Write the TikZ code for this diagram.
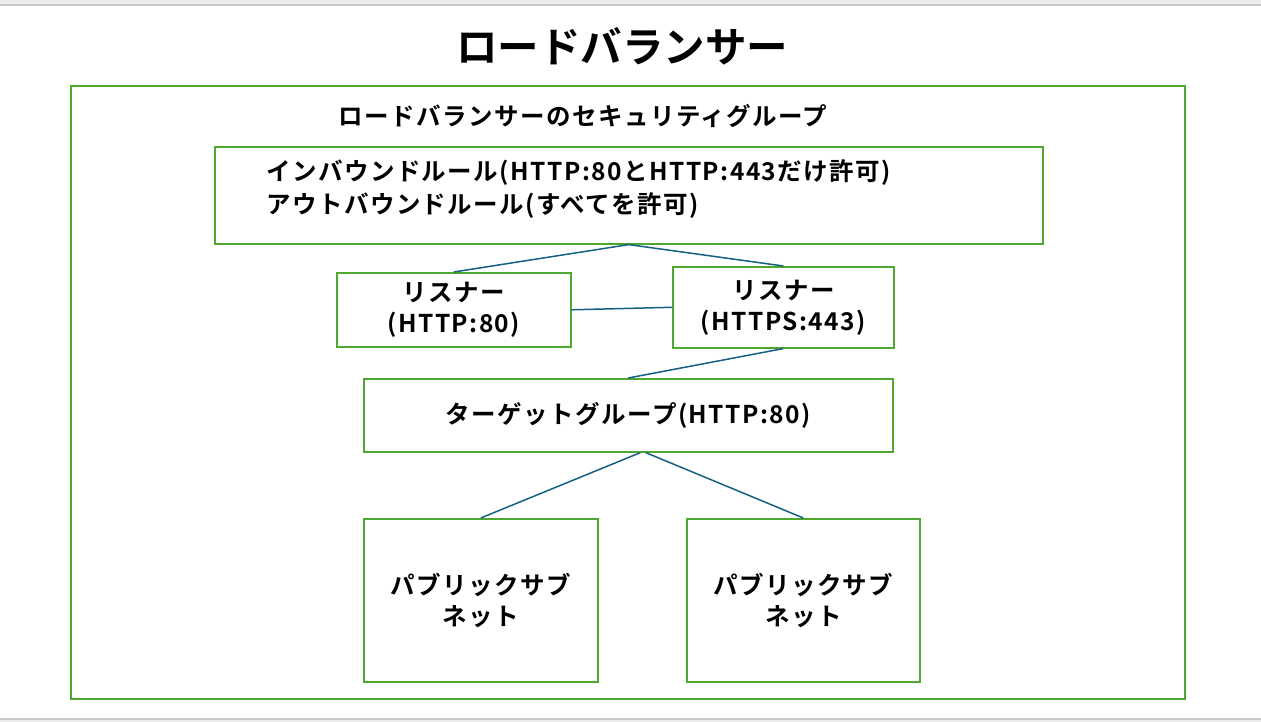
\documentclass[tikz,border=0pt]{standalone}
\usepackage{fontspec}
\setmainfont{Noto Sans CJK JP Bold}
\newfontfamily\spacedfont[LetterSpace=6]{Noto Sans CJK JP Bold}
\usetikzlibrary{positioning}
\definecolor{boxgreen}{RGB}{78,167,46}
\definecolor{linkblue}{RGB}{21,96,130}
\definecolor{bandgray}{RGB}{236,236,238}
\definecolor{rulegray}{RGB}{200,200,204}
\tikzset{
    group/.style={draw=boxgreen,line width=1.6pt},
    box/.style={draw=boxgreen,line width=1.6pt,anchor=north west,inner sep=0pt,align=center,font=\spacedfont\fontsize{24.5}{31}\selectfont},
    caption/.style={inner sep=0pt,font=\spacedfont\fontsize{24.5}{30}\selectfont},
    link/.style={-,draw=linkblue,line width=1.5pt}
}

\begin{document}
\begin{tikzpicture}[x=1pt,y=-1pt]

                \useasboundingbox (0,0) rectangle (1261,722);
                \fill[bandgray] (0,0) rectangle (1261,5);
                \draw[rulegray,line width=1.2pt] (0,5) -- (1261,5);
                \fill[bandgray] (0,719) rectangle (1261,722);
                \draw[rulegray,line width=1.2pt] (0,719) -- (1261,719);

                \node         (title) at (622,46) [inner sep=0pt,font=\fontsize{41.5}{44}\selectfont] {ロードバランサー};
                \draw[group]  (71,86) rectangle (1185,699);
                \node         (sg label) at (583,116) [caption] {ロードバランサーのセキュリティグループ};

                \node[box]    (rules) at (214,146) [minimum width=828pt,minimum height=97pt] {};
                \node         (rules text) at (266,189) [anchor=west,align=left,inner sep=0pt,font=\spacedfont\fontsize{24.5}{33}\selectfont]
                    {インバウンドルール(HTTP:80とHTTP:443だけ許可)\\アウトバウンドルール(すべてを許可)};

                \node[box]    (listener 1) at (336,272) [minimum width=234pt,minimum height=74pt] {リスナー\\(HTTP:80)};
                \node[box]    (listener 2) at (672,266) [minimum width=221pt,minimum height=81pt] {リスナー\\(HTTPS:443)};
                \node[box]    (target) at (363,378) [minimum width=529pt,minimum height=73pt] {ターゲットグループ(HTTP:80)};

                \node[box]    (subnet 1) at (363,518) [minimum width=234pt,minimum height=163pt] {パブリックサブ\\ネット};
                \node[box]    (subnet 2) at (686,518) [minimum width=233pt,minimum height=163pt] {パブリックサブ\\ネット};

                \draw[link] (rules.south) -- (listener 1.north);
                \draw[link] (rules.south) -- (listener 2.north);
                \draw[link] (listener 1.east) -- (listener 2.west);
                \draw[link] (listener 2.south) -- (target.north);
                \draw[link] (target.-72) -- (subnet 1.north);
                \draw[link] (target.-65) -- (subnet 2.north);

            \end{tikzpicture}
\end{document}
